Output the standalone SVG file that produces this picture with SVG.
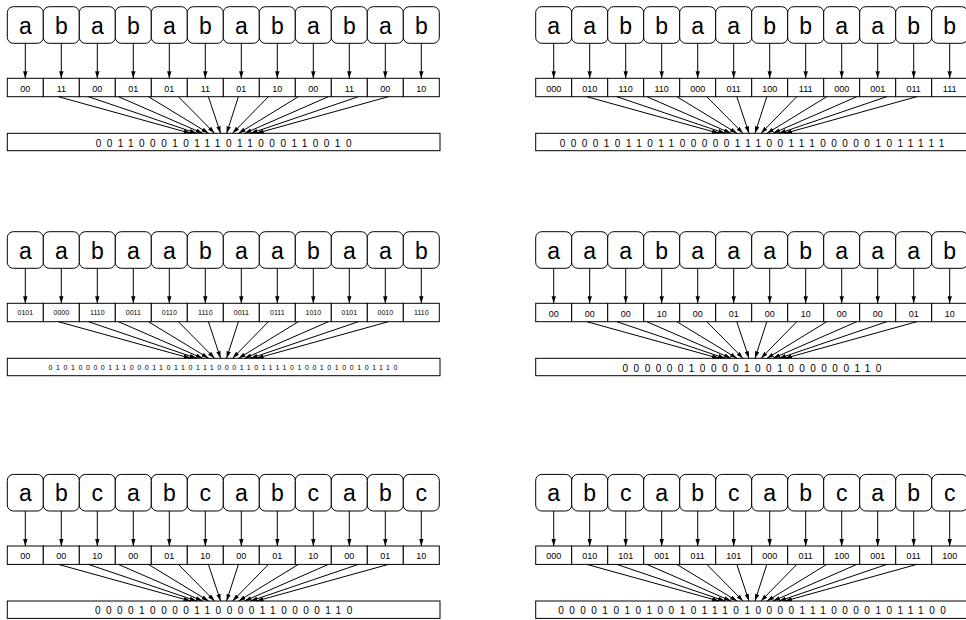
<svg xmlns="http://www.w3.org/2000/svg" width="966" height="620" viewBox="0 0 966 620">
<style>
.n rect{fill:#fff;stroke:#000;stroke-width:1}
.n text{font-family:"Liberation Sans",Arial,sans-serif;font-size:23px;text-anchor:middle;fill:#000}
.c rect{fill:#fff;stroke:#000;stroke-width:1}
.c text{font-family:"Liberation Sans",Arial,sans-serif;font-size:9px;text-anchor:middle;fill:#000}
.cs text{font-size:7px}
.b rect{fill:#fff;stroke:#000;stroke-width:1}
.b text{font-family:"Liberation Sans",Arial,sans-serif;font-size:10px;letter-spacing:5.48px;text-anchor:middle;fill:#000}
.bs text{font-size:7px;letter-spacing:3.58px}
.e line{stroke:#000;stroke-width:1;marker-end:url(#ah)}
</style>
<defs>
<marker id="ah" markerUnits="userSpaceOnUse" markerWidth="8" markerHeight="6" refX="7" refY="2.2" orient="auto"><path d="M0,0 L7,2.2 L0,4.4 z" fill="#000"/></marker>
</defs>

<!-- Panel 1 -->
<g id="panel1" transform="translate(7.3,0)">
<g id="p1-nodes" class="n">
<g id="p1-n0"><rect x="0" y="6.7" width="36" height="36.6" rx="6"/><text x="18" y="33.5">a</text></g>
<g id="p1-n1"><rect x="36" y="6.7" width="36" height="36.6" rx="6"/><text x="54" y="33.5">b</text></g>
<g id="p1-n2"><rect x="72" y="6.7" width="36" height="36.6" rx="6"/><text x="90" y="33.5">a</text></g>
<g id="p1-n3"><rect x="108" y="6.7" width="36" height="36.6" rx="6"/><text x="126" y="33.5">b</text></g>
<g id="p1-n4"><rect x="144" y="6.7" width="36" height="36.6" rx="6"/><text x="162" y="33.5">a</text></g>
<g id="p1-n5"><rect x="180" y="6.7" width="36" height="36.6" rx="6"/><text x="198" y="33.5">b</text></g>
<g id="p1-n6"><rect x="216" y="6.7" width="36" height="36.6" rx="6"/><text x="234" y="33.5">a</text></g>
<g id="p1-n7"><rect x="252" y="6.7" width="36" height="36.6" rx="6"/><text x="270" y="33.5">b</text></g>
<g id="p1-n8"><rect x="288" y="6.7" width="36" height="36.6" rx="6"/><text x="306" y="33.5">a</text></g>
<g id="p1-n9"><rect x="324" y="6.7" width="36" height="36.6" rx="6"/><text x="342" y="33.5">b</text></g>
<g id="p1-n10"><rect x="360" y="6.7" width="36" height="36.6" rx="6"/><text x="378" y="33.5">a</text></g>
<g id="p1-n11"><rect x="396" y="6.7" width="36" height="36.6" rx="6"/><text x="414" y="33.5">b</text></g>
</g>
<g id="p1-cells" class="c">
<g id="p1-c0"><rect x="0" y="78.3" width="36" height="18.4"/><text x="18" y="91.6">00</text></g>
<g id="p1-c1"><rect x="36" y="78.3" width="36" height="18.4"/><text x="54" y="91.6">11</text></g>
<g id="p1-c2"><rect x="72" y="78.3" width="36" height="18.4"/><text x="90" y="91.6">00</text></g>
<g id="p1-c3"><rect x="108" y="78.3" width="36" height="18.4"/><text x="126" y="91.6">01</text></g>
<g id="p1-c4"><rect x="144" y="78.3" width="36" height="18.4"/><text x="162" y="91.6">01</text></g>
<g id="p1-c5"><rect x="180" y="78.3" width="36" height="18.4"/><text x="198" y="91.6">11</text></g>
<g id="p1-c6"><rect x="216" y="78.3" width="36" height="18.4"/><text x="234" y="91.6">01</text></g>
<g id="p1-c7"><rect x="252" y="78.3" width="36" height="18.4"/><text x="270" y="91.6">10</text></g>
<g id="p1-c8"><rect x="288" y="78.3" width="36" height="18.4"/><text x="306" y="91.6">00</text></g>
<g id="p1-c9"><rect x="324" y="78.3" width="36" height="18.4"/><text x="342" y="91.6">11</text></g>
<g id="p1-c10"><rect x="360" y="78.3" width="36" height="18.4"/><text x="378" y="91.6">00</text></g>
<g id="p1-c11"><rect x="396" y="78.3" width="36" height="18.4"/><text x="414" y="91.6">10</text></g>
</g>
<g id="p1-bar" class="b"><rect x="0" y="133.3" width="432.7" height="17.4"/><text x="219" y="146.6">001100010111011000110010</text></g>
<g id="p1-edges" class="e">
<line x1="18" y1="43.3" x2="18" y2="78.3"/><line x1="54" y1="43.3" x2="54" y2="78.3"/><line x1="90" y1="43.3" x2="90" y2="78.3"/><line x1="126" y1="43.3" x2="126" y2="78.3"/><line x1="162" y1="43.3" x2="162" y2="78.3"/><line x1="198" y1="43.3" x2="198" y2="78.3"/><line x1="234" y1="43.3" x2="234" y2="78.3"/><line x1="270" y1="43.3" x2="270" y2="78.3"/><line x1="306" y1="43.3" x2="306" y2="78.3"/><line x1="342" y1="43.3" x2="342" y2="78.3"/><line x1="378" y1="43.3" x2="378" y2="78.3"/><line x1="414" y1="43.3" x2="414" y2="78.3"/>
<line x1="51.1" y1="96.7" x2="183.3" y2="133.3"/><line x1="81.1" y1="96.7" x2="189.3" y2="133.3"/><line x1="111.1" y1="96.7" x2="195.3" y2="133.3"/><line x1="141.1" y1="96.7" x2="201.3" y2="133.3"/><line x1="171.1" y1="96.7" x2="207.3" y2="133.3"/><line x1="201.1" y1="96.7" x2="213.3" y2="133.3"/><line x1="231.1" y1="96.7" x2="219.3" y2="133.3"/><line x1="261.1" y1="96.7" x2="225.3" y2="133.3"/><line x1="291.1" y1="96.7" x2="231.3" y2="133.3"/><line x1="321.1" y1="96.7" x2="237.3" y2="133.3"/><line x1="351.1" y1="96.7" x2="243.3" y2="133.3"/><line x1="381.1" y1="96.7" x2="249.3" y2="133.3"/>
</g>
</g>

<!-- Panel 2 -->
<g id="panel2" transform="translate(535.7,0)">
<g id="p2-nodes" class="n">
<g id="p2-n0"><rect x="0" y="6.7" width="36" height="36.6" rx="6"/><text x="18" y="33.5">a</text></g>
<g id="p2-n1"><rect x="36" y="6.7" width="36" height="36.6" rx="6"/><text x="54" y="33.5">a</text></g>
<g id="p2-n2"><rect x="72" y="6.7" width="36" height="36.6" rx="6"/><text x="90" y="33.5">b</text></g>
<g id="p2-n3"><rect x="108" y="6.7" width="36" height="36.6" rx="6"/><text x="126" y="33.5">b</text></g>
<g id="p2-n4"><rect x="144" y="6.7" width="36" height="36.6" rx="6"/><text x="162" y="33.5">a</text></g>
<g id="p2-n5"><rect x="180" y="6.7" width="36" height="36.6" rx="6"/><text x="198" y="33.5">a</text></g>
<g id="p2-n6"><rect x="216" y="6.7" width="36" height="36.6" rx="6"/><text x="234" y="33.5">b</text></g>
<g id="p2-n7"><rect x="252" y="6.7" width="36" height="36.6" rx="6"/><text x="270" y="33.5">b</text></g>
<g id="p2-n8"><rect x="288" y="6.7" width="36" height="36.6" rx="6"/><text x="306" y="33.5">a</text></g>
<g id="p2-n9"><rect x="324" y="6.7" width="36" height="36.6" rx="6"/><text x="342" y="33.5">a</text></g>
<g id="p2-n10"><rect x="360" y="6.7" width="36" height="36.6" rx="6"/><text x="378" y="33.5">b</text></g>
<g id="p2-n11"><rect x="396" y="6.7" width="36" height="36.6" rx="6"/><text x="414" y="33.5">b</text></g>
</g>
<g id="p2-cells" class="c">
<g id="p2-c0"><rect x="0" y="78.3" width="36" height="18.4"/><text x="18" y="91.6">000</text></g>
<g id="p2-c1"><rect x="36" y="78.3" width="36" height="18.4"/><text x="54" y="91.6">010</text></g>
<g id="p2-c2"><rect x="72" y="78.3" width="36" height="18.4"/><text x="90" y="91.6">110</text></g>
<g id="p2-c3"><rect x="108" y="78.3" width="36" height="18.4"/><text x="126" y="91.6">110</text></g>
<g id="p2-c4"><rect x="144" y="78.3" width="36" height="18.4"/><text x="162" y="91.6">000</text></g>
<g id="p2-c5"><rect x="180" y="78.3" width="36" height="18.4"/><text x="198" y="91.6">011</text></g>
<g id="p2-c6"><rect x="216" y="78.3" width="36" height="18.4"/><text x="234" y="91.6">100</text></g>
<g id="p2-c7"><rect x="252" y="78.3" width="36" height="18.4"/><text x="270" y="91.6">111</text></g>
<g id="p2-c8"><rect x="288" y="78.3" width="36" height="18.4"/><text x="306" y="91.6">000</text></g>
<g id="p2-c9"><rect x="324" y="78.3" width="36" height="18.4"/><text x="342" y="91.6">001</text></g>
<g id="p2-c10"><rect x="360" y="78.3" width="36" height="18.4"/><text x="378" y="91.6">011</text></g>
<g id="p2-c11"><rect x="396" y="78.3" width="36" height="18.4"/><text x="414" y="91.6">111</text></g>
</g>
<g id="p2-bar" class="b"><rect x="0" y="133.3" width="432.7" height="17.4"/><text x="219" y="146.6">000010110110000011100111000001011111</text></g>
<g id="p2-edges" class="e">
<line x1="18" y1="43.3" x2="18" y2="78.3"/><line x1="54" y1="43.3" x2="54" y2="78.3"/><line x1="90" y1="43.3" x2="90" y2="78.3"/><line x1="126" y1="43.3" x2="126" y2="78.3"/><line x1="162" y1="43.3" x2="162" y2="78.3"/><line x1="198" y1="43.3" x2="198" y2="78.3"/><line x1="234" y1="43.3" x2="234" y2="78.3"/><line x1="270" y1="43.3" x2="270" y2="78.3"/><line x1="306" y1="43.3" x2="306" y2="78.3"/><line x1="342" y1="43.3" x2="342" y2="78.3"/><line x1="378" y1="43.3" x2="378" y2="78.3"/><line x1="414" y1="43.3" x2="414" y2="78.3"/>
<line x1="51.1" y1="96.7" x2="183.3" y2="133.3"/><line x1="81.1" y1="96.7" x2="189.3" y2="133.3"/><line x1="111.1" y1="96.7" x2="195.3" y2="133.3"/><line x1="141.1" y1="96.7" x2="201.3" y2="133.3"/><line x1="171.1" y1="96.7" x2="207.3" y2="133.3"/><line x1="201.1" y1="96.7" x2="213.3" y2="133.3"/><line x1="231.1" y1="96.7" x2="219.3" y2="133.3"/><line x1="261.1" y1="96.7" x2="225.3" y2="133.3"/><line x1="291.1" y1="96.7" x2="231.3" y2="133.3"/><line x1="321.1" y1="96.7" x2="237.3" y2="133.3"/><line x1="351.1" y1="96.7" x2="243.3" y2="133.3"/><line x1="381.1" y1="96.7" x2="249.3" y2="133.3"/>
</g>
</g>

<!-- Panel 3 -->
<g id="panel3" transform="translate(7.3,225)">
<g id="p3-nodes" class="n">
<g id="p3-n0"><rect x="0" y="6.7" width="36" height="36.6" rx="6"/><text x="18" y="33.5">a</text></g>
<g id="p3-n1"><rect x="36" y="6.7" width="36" height="36.6" rx="6"/><text x="54" y="33.5">a</text></g>
<g id="p3-n2"><rect x="72" y="6.7" width="36" height="36.6" rx="6"/><text x="90" y="33.5">b</text></g>
<g id="p3-n3"><rect x="108" y="6.7" width="36" height="36.6" rx="6"/><text x="126" y="33.5">a</text></g>
<g id="p3-n4"><rect x="144" y="6.7" width="36" height="36.6" rx="6"/><text x="162" y="33.5">a</text></g>
<g id="p3-n5"><rect x="180" y="6.7" width="36" height="36.6" rx="6"/><text x="198" y="33.5">b</text></g>
<g id="p3-n6"><rect x="216" y="6.7" width="36" height="36.6" rx="6"/><text x="234" y="33.5">a</text></g>
<g id="p3-n7"><rect x="252" y="6.7" width="36" height="36.6" rx="6"/><text x="270" y="33.5">a</text></g>
<g id="p3-n8"><rect x="288" y="6.7" width="36" height="36.6" rx="6"/><text x="306" y="33.5">b</text></g>
<g id="p3-n9"><rect x="324" y="6.7" width="36" height="36.6" rx="6"/><text x="342" y="33.5">a</text></g>
<g id="p3-n10"><rect x="360" y="6.7" width="36" height="36.6" rx="6"/><text x="378" y="33.5">a</text></g>
<g id="p3-n11"><rect x="396" y="6.7" width="36" height="36.6" rx="6"/><text x="414" y="33.5">b</text></g>
</g>
<g id="p3-cells" class="c cs">
<g id="p3-c0"><rect x="0" y="78.3" width="36" height="18.4"/><text x="18" y="90">0101</text></g>
<g id="p3-c1"><rect x="36" y="78.3" width="36" height="18.4"/><text x="54" y="90">0000</text></g>
<g id="p3-c2"><rect x="72" y="78.3" width="36" height="18.4"/><text x="90" y="90">1110</text></g>
<g id="p3-c3"><rect x="108" y="78.3" width="36" height="18.4"/><text x="126" y="90">0011</text></g>
<g id="p3-c4"><rect x="144" y="78.3" width="36" height="18.4"/><text x="162" y="90">0110</text></g>
<g id="p3-c5"><rect x="180" y="78.3" width="36" height="18.4"/><text x="198" y="90">1110</text></g>
<g id="p3-c6"><rect x="216" y="78.3" width="36" height="18.4"/><text x="234" y="90">0011</text></g>
<g id="p3-c7"><rect x="252" y="78.3" width="36" height="18.4"/><text x="270" y="90">0111</text></g>
<g id="p3-c8"><rect x="288" y="78.3" width="36" height="18.4"/><text x="306" y="90">1010</text></g>
<g id="p3-c9"><rect x="324" y="78.3" width="36" height="18.4"/><text x="342" y="90">0101</text></g>
<g id="p3-c10"><rect x="360" y="78.3" width="36" height="18.4"/><text x="378" y="90">0010</text></g>
<g id="p3-c11"><rect x="396" y="78.3" width="36" height="18.4"/><text x="414" y="90">1110</text></g>
</g>
<g id="p3-bar" class="b bs"><rect x="0" y="133.3" width="432.7" height="17.4"/><text x="217.5" y="144.6">010100001110001101101110001101111010010100101110</text></g>
<g id="p3-edges" class="e">
<line x1="18" y1="43.3" x2="18" y2="78.3"/><line x1="54" y1="43.3" x2="54" y2="78.3"/><line x1="90" y1="43.3" x2="90" y2="78.3"/><line x1="126" y1="43.3" x2="126" y2="78.3"/><line x1="162" y1="43.3" x2="162" y2="78.3"/><line x1="198" y1="43.3" x2="198" y2="78.3"/><line x1="234" y1="43.3" x2="234" y2="78.3"/><line x1="270" y1="43.3" x2="270" y2="78.3"/><line x1="306" y1="43.3" x2="306" y2="78.3"/><line x1="342" y1="43.3" x2="342" y2="78.3"/><line x1="378" y1="43.3" x2="378" y2="78.3"/><line x1="414" y1="43.3" x2="414" y2="78.3"/>
<line x1="51.1" y1="96.7" x2="183.3" y2="133.3"/><line x1="81.1" y1="96.7" x2="189.3" y2="133.3"/><line x1="111.1" y1="96.7" x2="195.3" y2="133.3"/><line x1="141.1" y1="96.7" x2="201.3" y2="133.3"/><line x1="171.1" y1="96.7" x2="207.3" y2="133.3"/><line x1="201.1" y1="96.7" x2="213.3" y2="133.3"/><line x1="231.1" y1="96.7" x2="219.3" y2="133.3"/><line x1="261.1" y1="96.7" x2="225.3" y2="133.3"/><line x1="291.1" y1="96.7" x2="231.3" y2="133.3"/><line x1="321.1" y1="96.7" x2="237.3" y2="133.3"/><line x1="351.1" y1="96.7" x2="243.3" y2="133.3"/><line x1="381.1" y1="96.7" x2="249.3" y2="133.3"/>
</g>
</g>

<!-- Panel 4 -->
<g id="panel4" transform="translate(535.7,225)">
<g id="p4-nodes" class="n">
<g id="p4-n0"><rect x="0" y="6.7" width="36" height="36.6" rx="6"/><text x="18" y="33.5">a</text></g>
<g id="p4-n1"><rect x="36" y="6.7" width="36" height="36.6" rx="6"/><text x="54" y="33.5">a</text></g>
<g id="p4-n2"><rect x="72" y="6.7" width="36" height="36.6" rx="6"/><text x="90" y="33.5">a</text></g>
<g id="p4-n3"><rect x="108" y="6.7" width="36" height="36.6" rx="6"/><text x="126" y="33.5">b</text></g>
<g id="p4-n4"><rect x="144" y="6.7" width="36" height="36.6" rx="6"/><text x="162" y="33.5">a</text></g>
<g id="p4-n5"><rect x="180" y="6.7" width="36" height="36.6" rx="6"/><text x="198" y="33.5">a</text></g>
<g id="p4-n6"><rect x="216" y="6.7" width="36" height="36.6" rx="6"/><text x="234" y="33.5">a</text></g>
<g id="p4-n7"><rect x="252" y="6.7" width="36" height="36.6" rx="6"/><text x="270" y="33.5">b</text></g>
<g id="p4-n8"><rect x="288" y="6.7" width="36" height="36.6" rx="6"/><text x="306" y="33.5">a</text></g>
<g id="p4-n9"><rect x="324" y="6.7" width="36" height="36.6" rx="6"/><text x="342" y="33.5">a</text></g>
<g id="p4-n10"><rect x="360" y="6.7" width="36" height="36.6" rx="6"/><text x="378" y="33.5">a</text></g>
<g id="p4-n11"><rect x="396" y="6.7" width="36" height="36.6" rx="6"/><text x="414" y="33.5">b</text></g>
</g>
<g id="p4-cells" class="c">
<g id="p4-c0"><rect x="0" y="78.3" width="36" height="18.4"/><text x="18" y="91.6">00</text></g>
<g id="p4-c1"><rect x="36" y="78.3" width="36" height="18.4"/><text x="54" y="91.6">00</text></g>
<g id="p4-c2"><rect x="72" y="78.3" width="36" height="18.4"/><text x="90" y="91.6">00</text></g>
<g id="p4-c3"><rect x="108" y="78.3" width="36" height="18.4"/><text x="126" y="91.6">10</text></g>
<g id="p4-c4"><rect x="144" y="78.3" width="36" height="18.4"/><text x="162" y="91.6">00</text></g>
<g id="p4-c5"><rect x="180" y="78.3" width="36" height="18.4"/><text x="198" y="91.6">01</text></g>
<g id="p4-c6"><rect x="216" y="78.3" width="36" height="18.4"/><text x="234" y="91.6">00</text></g>
<g id="p4-c7"><rect x="252" y="78.3" width="36" height="18.4"/><text x="270" y="91.6">10</text></g>
<g id="p4-c8"><rect x="288" y="78.3" width="36" height="18.4"/><text x="306" y="91.6">00</text></g>
<g id="p4-c9"><rect x="324" y="78.3" width="36" height="18.4"/><text x="342" y="91.6">00</text></g>
<g id="p4-c10"><rect x="360" y="78.3" width="36" height="18.4"/><text x="378" y="91.6">01</text></g>
<g id="p4-c11"><rect x="396" y="78.3" width="36" height="18.4"/><text x="414" y="91.6">10</text></g>
</g>
<g id="p4-bar" class="b"><rect x="0" y="133.3" width="432.7" height="17.4"/><text x="219" y="146.6">000000100001001000000110</text></g>
<g id="p4-edges" class="e">
<line x1="18" y1="43.3" x2="18" y2="78.3"/><line x1="54" y1="43.3" x2="54" y2="78.3"/><line x1="90" y1="43.3" x2="90" y2="78.3"/><line x1="126" y1="43.3" x2="126" y2="78.3"/><line x1="162" y1="43.3" x2="162" y2="78.3"/><line x1="198" y1="43.3" x2="198" y2="78.3"/><line x1="234" y1="43.3" x2="234" y2="78.3"/><line x1="270" y1="43.3" x2="270" y2="78.3"/><line x1="306" y1="43.3" x2="306" y2="78.3"/><line x1="342" y1="43.3" x2="342" y2="78.3"/><line x1="378" y1="43.3" x2="378" y2="78.3"/><line x1="414" y1="43.3" x2="414" y2="78.3"/>
<line x1="51.1" y1="96.7" x2="183.3" y2="133.3"/><line x1="81.1" y1="96.7" x2="189.3" y2="133.3"/><line x1="111.1" y1="96.7" x2="195.3" y2="133.3"/><line x1="141.1" y1="96.7" x2="201.3" y2="133.3"/><line x1="171.1" y1="96.7" x2="207.3" y2="133.3"/><line x1="201.1" y1="96.7" x2="213.3" y2="133.3"/><line x1="231.1" y1="96.7" x2="219.3" y2="133.3"/><line x1="261.1" y1="96.7" x2="225.3" y2="133.3"/><line x1="291.1" y1="96.7" x2="231.3" y2="133.3"/><line x1="321.1" y1="96.7" x2="237.3" y2="133.3"/><line x1="351.1" y1="96.7" x2="243.3" y2="133.3"/><line x1="381.1" y1="96.7" x2="249.3" y2="133.3"/>
</g>
</g>

<!-- Panel 5 -->
<g id="panel5" transform="translate(7.3,467.7)">
<g id="p5-nodes" class="n">
<g id="p5-n0"><rect x="0" y="6.7" width="36" height="36.6" rx="6"/><text x="18" y="33.5">a</text></g>
<g id="p5-n1"><rect x="36" y="6.7" width="36" height="36.6" rx="6"/><text x="54" y="33.5">b</text></g>
<g id="p5-n2"><rect x="72" y="6.7" width="36" height="36.6" rx="6"/><text x="90" y="33.5">c</text></g>
<g id="p5-n3"><rect x="108" y="6.7" width="36" height="36.6" rx="6"/><text x="126" y="33.5">a</text></g>
<g id="p5-n4"><rect x="144" y="6.7" width="36" height="36.6" rx="6"/><text x="162" y="33.5">b</text></g>
<g id="p5-n5"><rect x="180" y="6.7" width="36" height="36.6" rx="6"/><text x="198" y="33.5">c</text></g>
<g id="p5-n6"><rect x="216" y="6.7" width="36" height="36.6" rx="6"/><text x="234" y="33.5">a</text></g>
<g id="p5-n7"><rect x="252" y="6.7" width="36" height="36.6" rx="6"/><text x="270" y="33.5">b</text></g>
<g id="p5-n8"><rect x="288" y="6.7" width="36" height="36.6" rx="6"/><text x="306" y="33.5">c</text></g>
<g id="p5-n9"><rect x="324" y="6.7" width="36" height="36.6" rx="6"/><text x="342" y="33.5">a</text></g>
<g id="p5-n10"><rect x="360" y="6.7" width="36" height="36.6" rx="6"/><text x="378" y="33.5">b</text></g>
<g id="p5-n11"><rect x="396" y="6.7" width="36" height="36.6" rx="6"/><text x="414" y="33.5">c</text></g>
</g>
<g id="p5-cells" class="c">
<g id="p5-c0"><rect x="0" y="78.3" width="36" height="18.4"/><text x="18" y="91.6">00</text></g>
<g id="p5-c1"><rect x="36" y="78.3" width="36" height="18.4"/><text x="54" y="91.6">00</text></g>
<g id="p5-c2"><rect x="72" y="78.3" width="36" height="18.4"/><text x="90" y="91.6">10</text></g>
<g id="p5-c3"><rect x="108" y="78.3" width="36" height="18.4"/><text x="126" y="91.6">00</text></g>
<g id="p5-c4"><rect x="144" y="78.3" width="36" height="18.4"/><text x="162" y="91.6">01</text></g>
<g id="p5-c5"><rect x="180" y="78.3" width="36" height="18.4"/><text x="198" y="91.6">10</text></g>
<g id="p5-c6"><rect x="216" y="78.3" width="36" height="18.4"/><text x="234" y="91.6">00</text></g>
<g id="p5-c7"><rect x="252" y="78.3" width="36" height="18.4"/><text x="270" y="91.6">01</text></g>
<g id="p5-c8"><rect x="288" y="78.3" width="36" height="18.4"/><text x="306" y="91.6">10</text></g>
<g id="p5-c9"><rect x="324" y="78.3" width="36" height="18.4"/><text x="342" y="91.6">00</text></g>
<g id="p5-c10"><rect x="360" y="78.3" width="36" height="18.4"/><text x="378" y="91.6">01</text></g>
<g id="p5-c11"><rect x="396" y="78.3" width="36" height="18.4"/><text x="414" y="91.6">10</text></g>
</g>
<g id="p5-bar" class="b"><rect x="0" y="133.3" width="432.7" height="17.4"/><text x="219" y="146.6">000010000110000110000110</text></g>
<g id="p5-edges" class="e">
<line x1="18" y1="43.3" x2="18" y2="78.3"/><line x1="54" y1="43.3" x2="54" y2="78.3"/><line x1="90" y1="43.3" x2="90" y2="78.3"/><line x1="126" y1="43.3" x2="126" y2="78.3"/><line x1="162" y1="43.3" x2="162" y2="78.3"/><line x1="198" y1="43.3" x2="198" y2="78.3"/><line x1="234" y1="43.3" x2="234" y2="78.3"/><line x1="270" y1="43.3" x2="270" y2="78.3"/><line x1="306" y1="43.3" x2="306" y2="78.3"/><line x1="342" y1="43.3" x2="342" y2="78.3"/><line x1="378" y1="43.3" x2="378" y2="78.3"/><line x1="414" y1="43.3" x2="414" y2="78.3"/>
<line x1="51.1" y1="96.7" x2="183.3" y2="133.3"/><line x1="81.1" y1="96.7" x2="189.3" y2="133.3"/><line x1="111.1" y1="96.7" x2="195.3" y2="133.3"/><line x1="141.1" y1="96.7" x2="201.3" y2="133.3"/><line x1="171.1" y1="96.7" x2="207.3" y2="133.3"/><line x1="201.1" y1="96.7" x2="213.3" y2="133.3"/><line x1="231.1" y1="96.7" x2="219.3" y2="133.3"/><line x1="261.1" y1="96.7" x2="225.3" y2="133.3"/><line x1="291.1" y1="96.7" x2="231.3" y2="133.3"/><line x1="321.1" y1="96.7" x2="237.3" y2="133.3"/><line x1="351.1" y1="96.7" x2="243.3" y2="133.3"/><line x1="381.1" y1="96.7" x2="249.3" y2="133.3"/>
</g>
</g>

<!-- Panel 6 -->
<g id="panel6" transform="translate(535.7,467.7)">
<g id="p6-nodes" class="n">
<g id="p6-n0"><rect x="0" y="6.7" width="36" height="36.6" rx="6"/><text x="18" y="33.5">a</text></g>
<g id="p6-n1"><rect x="36" y="6.7" width="36" height="36.6" rx="6"/><text x="54" y="33.5">b</text></g>
<g id="p6-n2"><rect x="72" y="6.7" width="36" height="36.6" rx="6"/><text x="90" y="33.5">c</text></g>
<g id="p6-n3"><rect x="108" y="6.7" width="36" height="36.6" rx="6"/><text x="126" y="33.5">a</text></g>
<g id="p6-n4"><rect x="144" y="6.7" width="36" height="36.6" rx="6"/><text x="162" y="33.5">b</text></g>
<g id="p6-n5"><rect x="180" y="6.7" width="36" height="36.6" rx="6"/><text x="198" y="33.5">c</text></g>
<g id="p6-n6"><rect x="216" y="6.7" width="36" height="36.6" rx="6"/><text x="234" y="33.5">a</text></g>
<g id="p6-n7"><rect x="252" y="6.7" width="36" height="36.6" rx="6"/><text x="270" y="33.5">b</text></g>
<g id="p6-n8"><rect x="288" y="6.7" width="36" height="36.6" rx="6"/><text x="306" y="33.5">c</text></g>
<g id="p6-n9"><rect x="324" y="6.7" width="36" height="36.6" rx="6"/><text x="342" y="33.5">a</text></g>
<g id="p6-n10"><rect x="360" y="6.7" width="36" height="36.6" rx="6"/><text x="378" y="33.5">b</text></g>
<g id="p6-n11"><rect x="396" y="6.7" width="36" height="36.6" rx="6"/><text x="414" y="33.5">c</text></g>
</g>
<g id="p6-cells" class="c">
<g id="p6-c0"><rect x="0" y="78.3" width="36" height="18.4"/><text x="18" y="91.6">000</text></g>
<g id="p6-c1"><rect x="36" y="78.3" width="36" height="18.4"/><text x="54" y="91.6">010</text></g>
<g id="p6-c2"><rect x="72" y="78.3" width="36" height="18.4"/><text x="90" y="91.6">101</text></g>
<g id="p6-c3"><rect x="108" y="78.3" width="36" height="18.4"/><text x="126" y="91.6">001</text></g>
<g id="p6-c4"><rect x="144" y="78.3" width="36" height="18.4"/><text x="162" y="91.6">011</text></g>
<g id="p6-c5"><rect x="180" y="78.3" width="36" height="18.4"/><text x="198" y="91.6">101</text></g>
<g id="p6-c6"><rect x="216" y="78.3" width="36" height="18.4"/><text x="234" y="91.6">000</text></g>
<g id="p6-c7"><rect x="252" y="78.3" width="36" height="18.4"/><text x="270" y="91.6">011</text></g>
<g id="p6-c8"><rect x="288" y="78.3" width="36" height="18.4"/><text x="306" y="91.6">100</text></g>
<g id="p6-c9"><rect x="324" y="78.3" width="36" height="18.4"/><text x="342" y="91.6">001</text></g>
<g id="p6-c10"><rect x="360" y="78.3" width="36" height="18.4"/><text x="378" y="91.6">011</text></g>
<g id="p6-c11"><rect x="396" y="78.3" width="36" height="18.4"/><text x="414" y="91.6">100</text></g>
</g>
<g id="p6-bar" class="b"><rect x="0" y="133.3" width="432.7" height="17.4"/><text x="219" y="146.6">000010101001011101000011100001011100</text></g>
<g id="p6-edges" class="e">
<line x1="18" y1="43.3" x2="18" y2="78.3"/><line x1="54" y1="43.3" x2="54" y2="78.3"/><line x1="90" y1="43.3" x2="90" y2="78.3"/><line x1="126" y1="43.3" x2="126" y2="78.3"/><line x1="162" y1="43.3" x2="162" y2="78.3"/><line x1="198" y1="43.3" x2="198" y2="78.3"/><line x1="234" y1="43.3" x2="234" y2="78.3"/><line x1="270" y1="43.3" x2="270" y2="78.3"/><line x1="306" y1="43.3" x2="306" y2="78.3"/><line x1="342" y1="43.3" x2="342" y2="78.3"/><line x1="378" y1="43.3" x2="378" y2="78.3"/><line x1="414" y1="43.3" x2="414" y2="78.3"/>
<line x1="51.1" y1="96.7" x2="183.3" y2="133.3"/><line x1="81.1" y1="96.7" x2="189.3" y2="133.3"/><line x1="111.1" y1="96.7" x2="195.3" y2="133.3"/><line x1="141.1" y1="96.7" x2="201.3" y2="133.3"/><line x1="171.1" y1="96.7" x2="207.3" y2="133.3"/><line x1="201.1" y1="96.7" x2="213.3" y2="133.3"/><line x1="231.1" y1="96.7" x2="219.3" y2="133.3"/><line x1="261.1" y1="96.7" x2="225.3" y2="133.3"/><line x1="291.1" y1="96.7" x2="231.3" y2="133.3"/><line x1="321.1" y1="96.7" x2="237.3" y2="133.3"/><line x1="351.1" y1="96.7" x2="243.3" y2="133.3"/><line x1="381.1" y1="96.7" x2="249.3" y2="133.3"/>
</g>
</g>
</svg>
